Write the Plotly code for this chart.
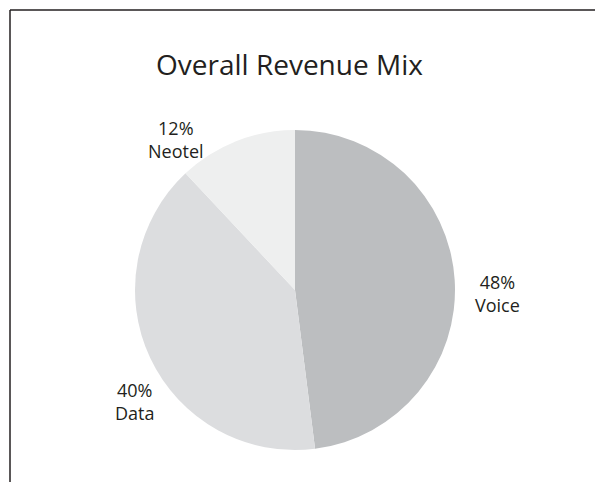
import plotly.graph_objects as go

labels = ["Voice", "Data", "Neotel"]
values = [48, 40, 12]
colors = ["#bcbec0", "#dcdddf", "#eeefef"]
title_text = "Overall Revenue Mix"

W, H = 595, 482
# label anchor positions (pixels, layout only)
label_pos = [(497, 293), (134, 401), (176, 139)]

fig = go.Figure()
fig.add_trace(go.Pie(
    labels=labels, values=values, sort=False, direction="clockwise", rotation=0,
    marker=dict(colors=colors, line=dict(width=0)),
    textinfo="none", hoverinfo="label+percent", showlegend=False,
    domain=dict(x=[135 / W, 455 / W], y=[1 - 450 / H, 1 - 130 / H]),
))

total = sum(values)
annotations = []
for (lab, val), (px, py) in zip(zip(labels, values), label_pos):
    pct = round(100 * val / total)
    annotations.append(dict(
        text=f"{pct}%<br>{lab}", x=px / W, y=1 - py / H, xref="paper", yref="paper",
        showarrow=False, xanchor="center", yanchor="middle", align="center",
        font=dict(family="Open Sans, Noto Sans, sans-serif", size=18, color="#231f20"),
    ))
annotations.append(dict(
    text=title_text, x=289 / W, y=1 - 64 / H, xref="paper", yref="paper",
    showarrow=False, xanchor="center", yanchor="middle",
    font=dict(family="Open Sans, Noto Sans, sans-serif", size=28, color="#231f20"),
))

shapes = [
    dict(type="line", xref="paper", yref="paper", x0=10 / W, y0=1 - 10 / H, x1=1.0, y1=1 - 10 / H,
         line=dict(color="#231f20", width=1.5)),
    dict(type="line", xref="paper", yref="paper", x0=10 / W, y0=1 - 10 / H, x1=10 / W, y1=0,
         line=dict(color="#231f20", width=1.5)),
]

fig.update_layout(
    width=W, height=H, margin=dict(l=0, r=0, t=0, b=0),
    paper_bgcolor="white", plot_bgcolor="white",
    annotations=annotations, shapes=shapes,
)
fig.write_html("out.html")
